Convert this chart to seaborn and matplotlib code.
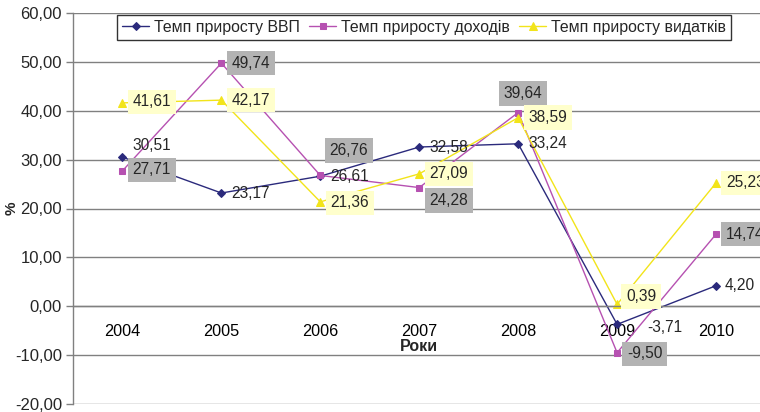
import matplotlib
matplotlib.use("Agg")
import matplotlib.pyplot as plt
from matplotlib.ticker import FuncFormatter, FixedLocator
import seaborn as sns
import pandas as pd

years = ["2004", "2005", "2006", "2007", "2008", "2009", "2010"]
series_names = ["Темп приросту ВВП", "Темп приросту доходів", "Темп приросту видатків"]
gdp = [30.51, 23.17, 26.61, 32.58, 33.24, -3.71, 4.20]
income = [27.71, 49.74, 26.76, 24.28, 39.64, -9.50, 14.74]
expenses = [41.61, 42.17, 21.36, 27.09, 38.59, 0.39, 25.23]
y_ticks = [-20, -10, 0, 10, 20, 30, 40, 50, 60]

colors = {series_names[0]: "#2B2A7C", series_names[1]: "#B651B1", series_names[2]: "#F2E41A"}
markers = {series_names[0]: "D", series_names[1]: "s", series_names[2]: "^"}
msizes = {series_names[0]: 4.5, series_names[1]: 5, series_names[2]: 6}
label_bg = {series_names[0]: None, series_names[1]: "#B3B3B3", series_names[2]: "#FFFFCC"}

# label offsets (pixels) for each series: (dx, dy, ha)
offs = {
    series_names[0]: [(10, 12, "left"), (10, 0, "left"), (10, 0, "left"), (10, 0, "left"),
                      (10, 0, "left"), (30, -3, "left"), (9, 0, "left")],
    series_names[1]: [(10, 1, "left"), (10, 0, "left"), (9, 25, "left"), (10, -13, "left"),
                      (5, 19, "center"), (10, -1, "left"), (10, 0, "left")],
    series_names[2]: [(10, 1, "left"), (10, 0, "left"), (10, -1, "left"), (10, 0, "left"),
                      (10, 0, "left"), (9, 8, "left"), (10, 0, "left")],
}

df = pd.DataFrame({
    "x": list(range(len(years))) * 3,
    "v": gdp + income + expenses,
    "s": [series_names[0]] * 7 + [series_names[1]] * 7 + [series_names[2]] * 7,
})

sns.set_style("white")
plt.rcParams["font.family"] = ["Liberation Sans", "DejaVu Sans"]

fig = plt.figure(figsize=(7.6, 4.12), dpi=100)
ax = fig.add_axes([73 / 760, 1 - 404 / 412, (765.5 - 73) / 760, 391 / 412])

for name in series_names:
    sub = df[df["s"] == name]
    sns.lineplot(data=sub, x="x", y="v", ax=ax, color=colors[name], marker=markers[name],
                 markersize=msizes[name], markeredgecolor=colors[name], linewidth=1.0,
                 legend=False, label=name)

ax.set_xlim(-0.5, 6.5)
ax.set_ylim(-20, 60)
ax.yaxis.set_major_locator(FixedLocator(y_ticks))
ax.yaxis.set_major_formatter(FuncFormatter(lambda v, p: f"{v:.2f}".replace(".", ",")))
ax.grid(axis="y", color="#808080", linewidth=1.0)
ax.set_axisbelow(True)

ax.set_xticks(range(len(years)))
ax.set_xticklabels(years)
ax.set_xticks([i + 0.5 for i in range(len(years) - 1)], minor=True)
ax.tick_params(axis="x", which="major", length=0, pad=13, labelsize=11.7, colors="black")
ax.tick_params(axis="x", which="minor", length=4, width=1, color="#404040", direction="out")
ax.tick_params(axis="y", which="major", length=5, width=1, color="#808080", pad=3,
               labelsize=12, left=True)

for sp in ["top", "right"]:
    ax.spines[sp].set_visible(False)
ax.spines["left"].set_color("#808080")
ax.spines["left"].set_linewidth(1.0)
ax.spines["bottom"].set_position(("data", 0))
ax.spines["bottom"].set_color("#808080")
ax.spines["bottom"].set_linewidth(1.0)

ax.set_xlabel("Роки", fontsize=11.5, fontweight="bold", labelpad=0)
ax.set_ylabel("%", fontsize=11, fontweight="bold", labelpad=2)
ax.yaxis.set_label_coords(-0.078, 0.5)

vals = {series_names[0]: gdp, series_names[1]: income, series_names[2]: expenses}
for name in series_names:
    for i, v in enumerate(vals[name]):
        dx, dy, ha = offs[name][i]
        bb = None
        if label_bg[name]:
            bb = dict(boxstyle="square,pad=0.3", facecolor=label_bg[name], edgecolor="none")
        ax.annotate(f"{v:.2f}".replace(".", ","), (i, v), xytext=(dx, dy),
                    textcoords="offset pixels", ha=ha, va="center", fontsize=11.2,
                    bbox=bb, zorder=5)

handles = ax.get_lines()[:3]
leg = ax.legend(handles, series_names, loc="center", bbox_to_anchor=(0.507, 0.963), ncol=3,
                fontsize=11.4, frameon=True, fancybox=False, handlelength=1.7,
                columnspacing=0.6, handletextpad=0.3, borderpad=0.3, borderaxespad=0)
leg.get_frame().set_edgecolor("black")
leg.get_frame().set_linewidth(1.0)

fig.savefig("out.png", dpi=100)
